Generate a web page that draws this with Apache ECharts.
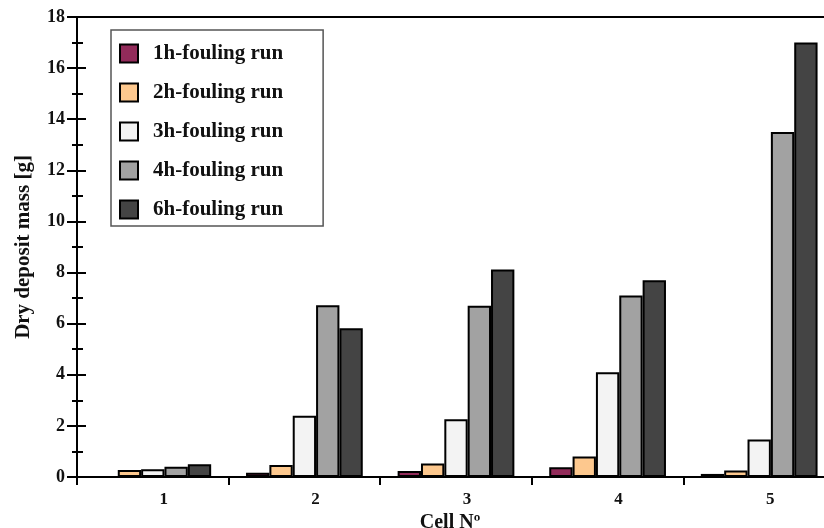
<!DOCTYPE html>
<html><head><meta charset="utf-8">
<script src="https://cdn.jsdelivr.net/npm/echarts@6/dist/echarts.min.js"></script>
<style>html,body{margin:0;padding:0;background:#fff}#c{width:824px;height:528px}</style>
</head><body><div id="c"></div>
<script>
const categories = ['1', '2', '3', '4', '5'];
const seriesNames = ['1h-fouling run', '2h-fouling run', '3h-fouling run', '4h-fouling run', '6h-fouling run'];
const run1h = [0, 0.17, 0.23, 0.38, 0.12];
const run2h = [0.27, 0.47, 0.53, 0.8, 0.25];
const run3h = [0.3, 2.4, 2.26, 4.1, 1.47];
const run4h = [0.4, 6.72, 6.7, 7.1, 13.5];
const run6h = [0.5, 5.82, 8.12, 7.7, 17.0];
const yTicks = [0, 18, 2];
const colors = ['#922b5a', '#fdc88e', '#f3f3f3', '#a2a2a2', '#444444'];
const allData = [run1h, run2h, run3h, run4h, run6h];
const font = '"Liberation Serif", "Times New Roman", serif';

const chart = echarts.init(document.getElementById('c'), null, {renderer: 'canvas'});
chart.setOption({
  animation: false,
  backgroundColor: '#fff',
  grid: {left: 77, top: 17, right: -11, bottom: 51, outerBoundsMode: 'none', containLabel: false,
         show: true, borderColor: '#000', borderWidth: 2, backgroundColor: 'transparent'},
  legend: {
    left: 111, top: 30, orient: 'vertical',
    backgroundColor: '#fff', borderColor: '#555', borderWidth: 1.5,
    padding: [13, 40, 6, 8],
    itemWidth: 18, itemHeight: 18, itemGap: 18,
    icon: 'rect',
    textStyle: {fontFamily: font, fontWeight: 'bold', fontSize: 21, color: '#111', padding: [0, 0, 0, 10]},
    data: seriesNames
  },
  xAxis: {
    type: 'category', data: categories,
    name: 'Cell Nº', nameLocation: 'middle', nameGap: 33,
    nameTextStyle: {fontFamily: font, fontWeight: 'bold', fontSize: 20, color: '#111', padding: [0, 12, 0, 0]},
    axisLine: {lineStyle: {color: '#000', width: 2}},
    axisTick: {show: true, length: 8, lineStyle: {color: '#000', width: 2}},
    axisLabel: {fontFamily: font, fontWeight: 'bold', fontSize: 17, color: '#111', margin: 14, padding: [0, 0, 0, 22]},
    splitLine: {show: false}
  },
  yAxis: [{
    type: 'value', min: yTicks[0], max: yTicks[1], interval: yTicks[2],
    name: 'Dry deposit mass [g]', nameLocation: 'middle', nameGap: 43,
    nameTextStyle: {fontFamily: font, fontWeight: 'bold', fontSize: 21, color: '#111'},
    axisLine: {show: true, lineStyle: {color: '#000', width: 2}},
    axisTick: {show: true, length: 10, lineStyle: {color: '#000', width: 2}},
    minorTick: {show: true, splitNumber: 2, length: 5, lineStyle: {color: '#000', width: 2}},
    axisLabel: {fontFamily: font, fontWeight: 'bold', fontSize: 18, color: '#111', margin: 12},
    splitLine: {show: false}
  }, {
    type: 'value', min: yTicks[0], max: yTicks[1], interval: yTicks[2], position: 'left',
    axisLine: {show: false},
    axisTick: {show: true, inside: true, length: 9, lineStyle: {color: '#000', width: 2}},
    minorTick: {show: true, splitNumber: 2, length: 6, lineStyle: {color: '#000', width: 2}},
    axisLabel: {show: false},
    splitLine: {show: false}
  }],
  series: seriesNames.map((n, i) => ({
    name: n, type: 'bar', data: allData[i], yAxisIndex: 0,
    barGap: '0%', barCategoryGap: '23%',
    itemStyle: {color: colors[i], borderColor: '#000', borderWidth: 2}
  }))
});
</script></body></html>
